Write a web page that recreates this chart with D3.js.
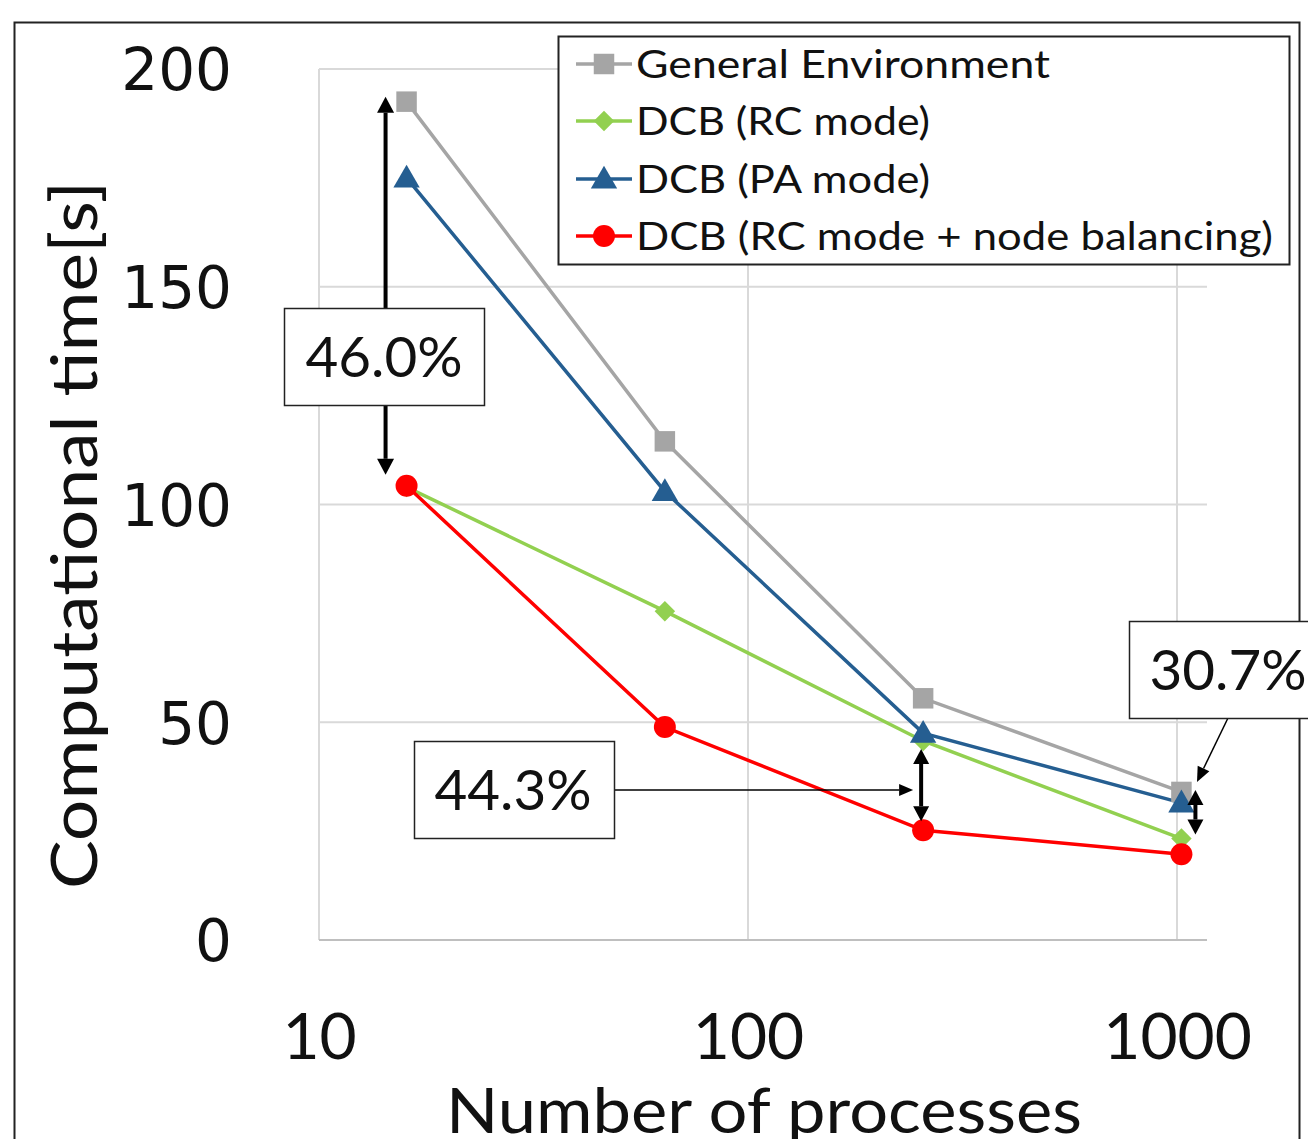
<!DOCTYPE html>
<html><head><meta charset="utf-8">
<script src="https://cdnjs.cloudflare.com/ajax/libs/d3/7.8.5/d3.min.js"></script>
<style>body{margin:0;background:#fff}svg{display:block}</style>
</head><body>
<script>
const processes = [16, 64, 256, 1024];
const seriesNames = ["General Environment", "DCB (RC mode)", "DCB (PA mode)", "DCB (RC mode + node balancing)"];
const generalEnv = [192.5, 114.5, 55.5, 34.0];
const dcbRC = [104.0, 75.5, 45.7, 23.3];
const dcbPA = [175.0, 103.0, 47.5, 31.5];
const dcbRCNode = [104.3, 48.9, 25.2, 19.7];
const yTicks = [0, 50, 100, 150, 200];
const xTicks = [10, 100, 1000];
const annotations = [
  {label: "46.0%", at: 16, from: 192.5, to: 104.3},
  {label: "44.3%", at: 256, from: 45.7, to: 25.2},
  {label: "30.7%", at: 1024, from: 34.0, to: 23.3}
];

const W = 1308, H = 1139;
const svg = d3.select("body").append("svg").attr("width", W).attr("height", H);
const font = "Lato, 'Open Sans', sans-serif";

function fitLen(sel, target) {
  sel.attr("textLength", target).attr("lengthAdjust", "spacingAndGlyphs");
}

// outer frame
svg.append("rect").attr("x", 14.5).attr("y", 22.5).attr("width", 1285).attr("height", 1130)
  .attr("fill", "none").attr("stroke", "#222").attr("stroke-width", 2);

const x = d3.scaleLog().domain([10, 1000]).range([319, 1177]);
const y = d3.scaleLinear().domain([0, 200]).range([940, 69]);
const xEnd = x.invert(1207);

function head(tx, ty, fx, fy, len, wid) {
  const a = Math.atan2(ty - fy, tx - fx);
  const bx = tx - len * Math.cos(a), by = ty - len * Math.sin(a);
  const px = -Math.sin(a) * wid / 2, py = Math.cos(a) * wid / 2;
  svg.append("path").attr("d", `M${tx},${ty}L${bx + px},${by + py}L${bx - px},${by - py}Z`).attr("fill", "#000");
  return [bx, by];
}
function arrow(x1, y1, x2, y2, opts) {
  const {w = 4, len = 16, wid = 16, start = false} = opts || {};
  let [sx, sy] = [x1, y1];
  let [ex, ey] = head(x2, y2, x1, y1, len, wid);
  if (start) [sx, sy] = head(x1, y1, x2, y2, len, wid);
  svg.append("line").attr("x1", sx).attr("y1", sy).attr("x2", ex).attr("y2", ey)
    .attr("stroke", "#000").attr("stroke-width", w);
}

// gridlines
const g = svg.append("g");
g.selectAll(".hg").data(yTicks.filter(d => d > 0)).join("line")
  .attr("x1", x(10)).attr("x2", x(xEnd)).attr("y1", d => y(d)).attr("y2", d => y(d))
  .attr("stroke", "#d9d9d9").attr("stroke-width", 2);
g.selectAll(".vg").data(xTicks).join("line")
  .attr("x1", d => x(d)).attr("x2", d => x(d)).attr("y1", y(200)).attr("y2", y(0))
  .attr("stroke", "#d9d9d9").attr("stroke-width", 2);
g.append("line").attr("x1", x(10)).attr("x2", x(xEnd)).attr("y1", y(0)).attr("y2", y(0))
  .attr("stroke", "#bfbfbf").attr("stroke-width", 2);

// y tick labels
const yAxis = d3.axisLeft(y).tickValues(yTicks).tickSize(0).tickPadding(0);
const ya = svg.append("g").attr("transform", "translate(232,0)").call(yAxis);
ya.select(".domain").remove();
ya.selectAll("text").attr("font-family", "'DejaVu Sans', sans-serif").attr("font-size", 58)
  .attr("fill", "#111").attr("dy", "0.36em");

// x tick labels
const xAxis = d3.axisBottom(x).tickValues(xTicks).tickFormat(d3.format("d")).tickSize(0).tickPadding(0);
const xa = svg.append("g").attr("transform", "translate(0,1059)").call(xAxis);
xa.select(".domain").remove();
xa.selectAll("text").attr("font-family", font).attr("font-size", 64).attr("fill", "#111")
  .attr("dy", 0).attr("y", 0);

// axis titles
const xt = svg.append("text").attr("x", 764).attr("y", 1133).attr("text-anchor", "middle")
  .attr("font-family", font).attr("font-size", 62).attr("fill", "#111").text("Number of processes");
fitLen(xt, 636);
const yt = svg.append("text").attr("transform", "translate(97,535) rotate(-90)").attr("text-anchor", "middle")
  .attr("font-family", font).attr("font-size", 64).attr("fill", "#111").text("Computational time[s]");
fitLen(yt, 708);

// series
const series = [
  {name: seriesNames[0], vals: generalEnv, color: "#a5a5a5", sym: d3.symbolSquare, size: 420, rot: 0, dy: 0},
  {name: seriesNames[1], vals: dcbRC, color: "#92d050", sym: d3.symbolSquare, size: 210, rot: 45, dy: 0},
  {name: seriesNames[2], vals: dcbPA, color: "#255e91", sym: d3.symbolTriangle, size: 300, rot: 0, dy: 2},
  {name: seriesNames[3], vals: dcbRCNode, color: "#ff0000", sym: d3.symbolCircle, size: 380, rot: 0, dy: 0}
];
const line = d3.line().x(d => x(d[0])).y(d => y(d[1]));
series.forEach(s => {
  const pts = processes.map((p, i) => [p, s.vals[i]]);
  svg.append("path").attr("d", line(pts)).attr("fill", "none").attr("stroke", s.color).attr("stroke-width", 3.5);
});
series.forEach(s => {
  const pts = processes.map((p, i) => [p, s.vals[i]]);
  svg.selectAll(null).data(pts).join("path")
    .attr("transform", d => `translate(${x(d[0])},${y(d[1]) + s.dy}) rotate(${s.rot})`)
    .attr("d", d3.symbol(s.sym, s.size)).attr("fill", s.color);
});

// annotations
{
  const a = annotations[0];
  const ax = x(a.at) - 21;
  arrow(ax, 340, ax, y(a.from) - 5, {w: 4, len: 16, wid: 17});
  arrow(ax, 370, ax, y(a.to) - 11, {w: 4, len: 16, wid: 17});
  svg.append("rect").attr("x", 284.5).attr("y", 308.5).attr("width", 200).attr("height", 97)
    .attr("fill", "#fff").attr("stroke", "#222").attr("stroke-width", 1.5);
  const t = svg.append("text").attr("x", 384).attr("y", 377).attr("text-anchor", "middle")
    .attr("font-family", font).attr("font-size", 56).attr("fill", "#111").text(a.label);
  fitLen(t, 157);
}
{
  const a = annotations[1];
  const ax = x(a.at) - 2;
  arrow(ax, y(a.from) + 8, ax, y(a.to) - 9, {w: 4, len: 15, wid: 16, start: true});
  arrow(614, 790, ax - 8, 790, {w: 1.5, len: 14, wid: 12});
  svg.append("rect").attr("x", 414.5).attr("y", 741.5).attr("width", 200).attr("height", 97)
    .attr("fill", "#fff").attr("stroke", "#222").attr("stroke-width", 1.5);
  const t = svg.append("text").attr("x", 513).attr("y", 810).attr("text-anchor", "middle")
    .attr("font-family", font).attr("font-size", 56).attr("fill", "#111").text(a.label);
  fitLen(t, 157);
}
{
  const a = annotations[2];
  const ax = x(a.at) + 14;
  arrow(ax, y(a.from) - 2, ax, y(a.to) - 4, {w: 4, len: 15, wid: 16, start: true});
  arrow(1228, 718, 1197, 782, {w: 1.5, len: 15, wid: 13});
  svg.append("rect").attr("x", 1129.5).attr("y", 621.5).attr("width", 200).attr("height", 97)
    .attr("fill", "#fff").attr("stroke", "#222").attr("stroke-width", 1.5);
  const t = svg.append("text").attr("x", 1228).attr("y", 690).attr("text-anchor", "middle")
    .attr("font-family", font).attr("font-size", 56).attr("fill", "#111").text(a.label);
  fitLen(t, 157);
}

// legend
const lg = svg.append("g");
lg.append("rect").attr("x", 558.5).attr("y", 36.5).attr("width", 731).attr("height", 228)
  .attr("fill", "#fff").attr("stroke", "#222").attr("stroke-width", 2);
const ly = [64, 121, 179, 236];
const targetW = [414, 294, 294, 637];
series.forEach((s, i) => {
  lg.append("line").attr("x1", 576).attr("x2", 632).attr("y1", ly[i]).attr("y2", ly[i])
    .attr("stroke", s.color).attr("stroke-width", 3.5);
  lg.append("path").attr("transform", `translate(604,${ly[i] + s.dy}) rotate(${s.rot})`)
    .attr("d", d3.symbol(s.sym, s.size)).attr("fill", s.color);
  const t = lg.append("text").attr("x", 636).attr("y", ly[i] + 14).attr("font-family", font)
    .attr("font-size", 38).attr("fill", "#111").text(s.name);
  fitLen(t, targetW[i]);
});
</script>
</body></html>
